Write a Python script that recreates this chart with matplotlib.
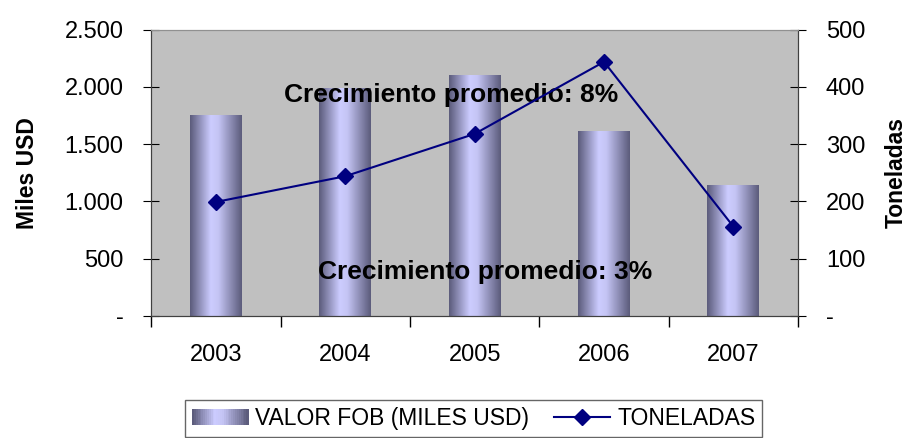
import numpy as np
import matplotlib.pyplot as plt
from matplotlib.legend_handler import HandlerBase
from matplotlib.patches import Rectangle
from matplotlib.lines import Line2D
from matplotlib.colors import LinearSegmentedColormap
from matplotlib.ticker import FuncFormatter

plt.rcParams['font.family'] = ['Liberation Sans', 'DejaVu Sans']

years = ['2003', '2004', '2005', '2006', '2007']
valor_fob = [1755, 1990, 2098, 1614, 1140]
toneladas = [199, 244, 318, 444, 156]

bar_cmap = LinearSegmentedColormap.from_list(
    'barra', [(0.0, '#5c5c7c'), (0.4, '#ccccff'), (0.55, '#c4c4f4'), (1.0, '#5c5c7c')])


def miles(v, pos):
    if v == 0:
        return '-'
    return '{:,.0f}'.format(v).replace(',', '.')


class GradientHandler(HandlerBase):
    def create_artists(self, legend, orig_handle, xd, yd, w, h, fontsize, trans):
        arts = []
        n = 30
        for i in range(n):
            r = Rectangle((xd + w * i / n, yd), w / n + 0.3, h,
                          facecolor=bar_cmap(i / (n - 1)), edgecolor='none', transform=trans)
            arts.append(r)
        return arts


fig = plt.figure(figsize=(9.11, 4.38), dpi=100)
ax1 = fig.add_axes([0.166, 0.279, 0.710, 0.653])
ax1.set_facecolor('#c0c0c0')

x = np.arange(len(years))
width = 0.4
grad = np.linspace(0, 1, 100).reshape(1, -1)
for xi, v in zip(x, valor_fob):
    ax1.imshow(grad, cmap=bar_cmap, aspect='auto', extent=[xi - width / 2, xi + width / 2, 0, v],
               zorder=2, interpolation='bilinear')

ax1.set_xlim(-0.5, len(years) - 0.5)
ax1.set_ylim(0, 2500)
ax1.set_yticks(np.arange(0, 2501, 500))
ax1.yaxis.set_major_formatter(FuncFormatter(miles))
ax1.set_xticks(np.arange(-0.5, len(years), 1))
ax1.set_xticklabels([])
ax1.set_xticks(x, minor=True)
ax1.set_xticklabels(years, minor=True)
ax1.tick_params(axis='x', which='major', length=8, direction='out', width=1)
ax1.tick_params(axis='x', which='minor', length=0, pad=20, labelsize=17)
ax1.tick_params(axis='y', length=12, direction='inout', labelsize=17, pad=14)
ax1.set_ylabel('Miles USD', fontsize=16.5, fontweight='bold', labelpad=18)
for s in ax1.spines.values():
    s.set_color('#404040')
ax1.spines['top'].set_color('#909090')

ax2 = ax1.twinx()
ax2.plot(x, toneladas, color='#000080', marker='D', markersize=8, linewidth=1.5, zorder=3)
ax2.set_ylim(0, 500)
ax2.set_yticks(np.arange(0, 501, 100))
ax2.yaxis.set_major_formatter(FuncFormatter(miles))
ax2.tick_params(axis='y', length=12, direction='inout', labelsize=17, pad=14)
ax2.set_ylabel('Toneladas', fontsize=16.5, fontweight='bold', labelpad=14)
for s in ax2.spines.values():
    s.set_color('#404040')
ax2.spines['top'].set_color('#909090')

ax1.text(1.822, 1871, 'Crecimiento promedio: 8%', ha='center', va='baseline',
         fontsize=19, fontweight='bold', zorder=5)
ax1.text(2.08, 323, 'Crecimiento promedio: 3%', ha='center', va='baseline',
         fontsize=19, fontweight='bold', zorder=5)

handles = [Rectangle((0, 0), 1, 1),
           Line2D([], [], color='#000080', marker='D', markersize=8, linewidth=1.5)]
leg = fig.legend(handles, ['VALOR FOB (MILES USD)', 'TONELADAS'], ncol=2,
                 loc='center', bbox_to_anchor=(0.520, 0.045), fontsize=16.5,
                 handler_map={Rectangle: GradientHandler()}, frameon=True, fancybox=False,
                 handlelength=2.45, handletextpad=0.3, columnspacing=1.1, borderpad=0.3)
leg.get_frame().set_edgecolor('#404040')
leg.get_frame().set_linewidth(1)

fig.savefig('out.png', dpi=100)
